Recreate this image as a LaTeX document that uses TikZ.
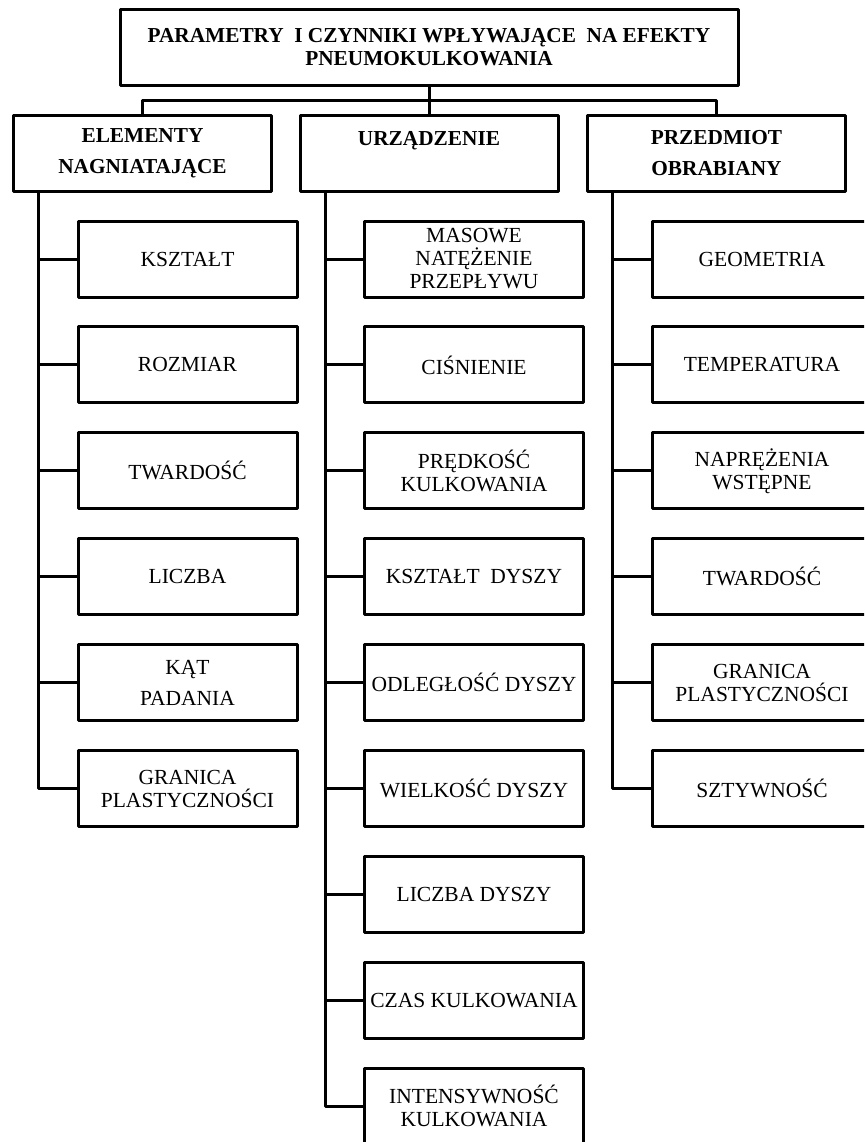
\documentclass[tikz,border=0pt]{standalone}
\usepackage{fontspec}
\setmainfont{Liberation Serif}
\usetikzlibrary{calc}

\begin{document}
\begin{tikzpicture}[x=1pt,y=-1pt,line width=3pt,line join=round,
		box/.style={draw,rectangle,outer sep=0pt,inner sep=1pt,align=center,font=\fontsize{21.5}{23}\selectfont},
		catbox/.style={box,minimum width=258pt,minimum height=76pt,font=\fontsize{21.3}{31}\selectfont\bfseries},
		itembox/.style={box,minimum width=219pt,minimum height=76pt}]
		\useasboundingbox (0,0) rectangle (864,1142);
		\clip (0,0) rectangle (864,1142);
		% naglowek i trzy grupy
		\node[box,minimum width=618pt,minimum height=76pt,font=\fontsize{21.3}{23}\selectfont\bfseries] (title) at (429,47.5) {PARAMETRY\ \ I CZYNNIKI WPŁYWAJĄCE\ \ NA EFEKTY\\PNEUMOKULKOWANIA};
		\node[catbox] (ele) at (142.5,153.5) {ELEMENTY\\NAGNIATAJĄCE};
		\node[catbox] (urz) at (429,153.5) {URZĄDZENIE\\\phantom{A}};
		\node[catbox] (prz) at (716.5,153.5) {PRZEDMIOT\\OBRABIANY};
		\coordinate (bus) at (429,101);
		\draw (title.south) -- (bus);
		\draw (ele.north) |- (bus) -| (prz.north);
		\draw (bus) -- (urz.north);
		% elementy nagniatajace
		\node[itembox] (e1) at (187.5,259) {KSZTAŁT};
		\node[itembox] (e2) at (187.5,364.9) {ROZMIAR};
		\node[itembox] (e3) at (187.5,470.8) {TWARDOŚĆ};
		\node[itembox] (e4) at (187.5,576.7) {LICZBA};
		\node[itembox] (e5) at (187.5,682.6) {KĄT\\[8pt]PADANIA};
		\node[itembox] (e6) at (187.5,788.5) {GRANICA\\PLASTYCZNOŚCI};
		% urzadzenie
		\node[itembox] (u1) at (474,259) {MASOWE\\NATĘŻENIE\\PRZEPŁYWU};
		\node[itembox] (u2) at (474,364.9) {CIŚNIENIE};
		\node[itembox] (u3) at (474,470.8) {PRĘDKOŚĆ\\KULKOWANIA};
		\node[itembox] (u4) at (474,576.7) {KSZTAŁT\ \ DYSZY};
		\node[itembox] (u5) at (474,682.6) {ODLEGŁOŚĆ DYSZY};
		\node[itembox] (u6) at (474,788.5) {WIELKOŚĆ DYSZY};
		\node[itembox] (u7) at (474,894.4) {LICZBA DYSZY};
		\node[itembox] (u8) at (474,1000.3) {CZAS KULKOWANIA};
		\node[itembox] (u9) at (474,1106.2) {INTENSYWNOŚĆ\\KULKOWANIA};
		% przedmiot obrabiany
		\node[itembox] (p1) at (762,259) {GEOMETRIA};
		\node[itembox] (p2) at (762,364.9) {TEMPERATURA};
		\node[itembox] (p3) at (762,470.8) {NAPRĘŻENIA\\WSTĘPNE};
		\node[itembox] (p4) at (762,576.7) {TWARDOŚĆ};
		\node[itembox] (p5) at (762,682.6) {GRANICA\\PLASTYCZNOŚCI};
		\node[itembox] (p6) at (762,788.5) {SZTYWNOŚĆ};
		% pnie i odgalezienia
		\coordinate (te) at ($(ele.south west)+(25,0)$);
		\coordinate (tu) at ($(urz.south west)+(25,0)$);
		\coordinate (tp) at ($(prz.south west)+(25,0)$);
		\draw (te) |- (e6.west);
		\draw (tu) |- (u9.west);
		\draw (tp) |- (p6.west);
		\draw (e1.west) -- (e1.west -| te) (e2.west) -- (e2.west -| te) (e3.west) -- (e3.west -| te)
			(e4.west) -- (e4.west -| te) (e5.west) -- (e5.west -| te);
		\draw (u1.west) -- (u1.west -| tu) (u2.west) -- (u2.west -| tu) (u3.west) -- (u3.west -| tu)
			(u4.west) -- (u4.west -| tu) (u5.west) -- (u5.west -| tu) (u6.west) -- (u6.west -| tu)
			(u7.west) -- (u7.west -| tu) (u8.west) -- (u8.west -| tu);
		\draw (p1.west) -- (p1.west -| tp) (p2.west) -- (p2.west -| tp) (p3.west) -- (p3.west -| tp)
			(p4.west) -- (p4.west -| tp) (p5.west) -- (p5.west -| tp);
	\end{tikzpicture}
\end{document}
